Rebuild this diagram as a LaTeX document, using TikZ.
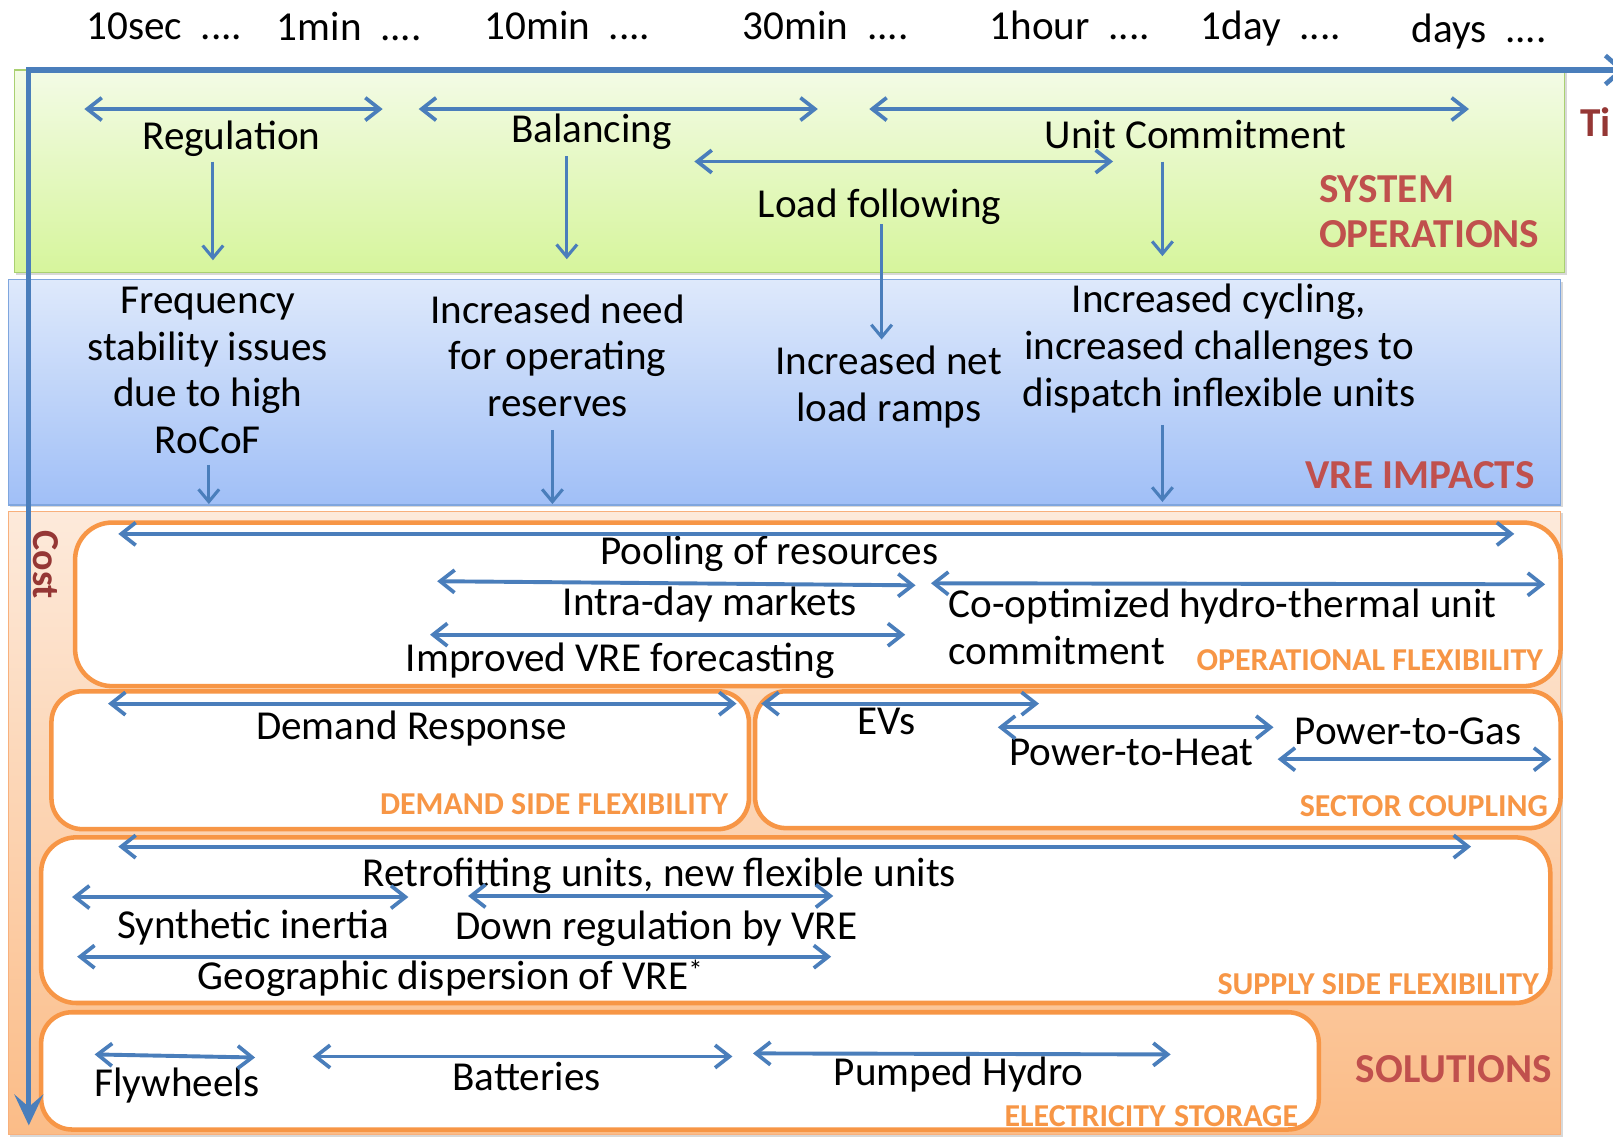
\documentclass[tikz,border=0pt]{standalone}
\usepackage{fontspec}
\setmainfont{Carlito}
\usetikzlibrary{arrows.meta,shadows}
\definecolor{arrblue}{HTML}{4A7EBB}
\definecolor{lblred}{HTML}{C0504D}
\definecolor{costred}{HTML}{953735}
\definecolor{orng}{HTML}{F79646}
\definecolor{grtop}{HTML}{F3FBE6}
\definecolor{grbot}{HTML}{D6F59C}
\definecolor{grline}{HTML}{A9D071}
\definecolor{bltop}{HTML}{DEE9FB}
\definecolor{blbot}{HTML}{A0BFF7}
\definecolor{blline}{HTML}{7FA6DE}
\definecolor{ortop}{HTML}{FDEADB}
\definecolor{orbot}{HTML}{FBBC87}
\definecolor{orline}{HTML}{F8B07C}
\begin{document}
\begin{tikzpicture}[x=1pt,y=-1pt,
  dbl/.style={arrblue,line width=3.8pt,
    {Straight Barb[length=14pt,width=22pt,line width=3.6pt]}-{Straight Barb[length=14pt,width=22pt,line width=3.6pt]}},
  dn/.style={arrblue,line width=3pt,-{Straight Barb[length=12pt,width=20pt,line width=3pt]}},
  txt/.style={font=\fontsize{40}{45.5}\selectfont,inner sep=0pt,align=center,anchor=base},
  tline/.style={font=\fontsize{40}{45.5}\selectfont,inner sep=0pt,anchor=base west},
  lbl/.style={font=\fontsize{40}{44}\selectfont\bfseries,text=lblred,inner sep=0pt},
  olbl/.style={font=\fontsize{31}{34}\selectfont\bfseries,text=orng,inner sep=0pt,anchor=base east},
  ibox/.style={draw=orng,line width=4.4pt,fill=white},
  bshadow/.style={drop shadow={opacity=.3,shadow xshift=2pt,shadow yshift=-2pt}},
  axis/.style={arrblue,line width=5pt}
]
\useasboundingbox[fill=white] (0,0) rectangle (1568,1107);

% ---------- time labels
\node[tline] (t1) at (84,38) {10sec\hspace{18pt}....};
\node[tline] (t2) at (269,39) {1min\hspace{18pt}....};
\node[tline] (t3) at (471,38) {10min\hspace{18pt}....};
\node[tline] (t4) at (722,38) {30min\hspace{18pt}....};
\node[tline] (t5) at (962,38) {1hour\hspace{18pt}....};
\node[tline] (t6) at (1167,38) {1day\hspace{18pt}....};
\node[tline] (t7) at (1372,41) {days\hspace{18pt}....};

% ---------- background boxes
\shade[bshadow,top color=grtop,bottom color=grbot,draw=grline,line width=1.2pt] (14,68) rectangle (1521,265);
\shade[bshadow,top color=bltop,bottom color=blbot,draw=blline,line width=1.2pt] (8,272) rectangle (1517,491);
\shade[bshadow,top color=ortop,bottom color=orbot,draw=orline,line width=1.2pt] (8,497) rectangle (1517,1103);

% ---------- inner solution boxes
\draw[ibox,rounded corners=36pt] (73,508) rectangle (1517,667);
\draw[ibox,rounded corners=30pt] (50,672) rectangle (728,806);
\draw[ibox,rounded corners=30pt] (734,672) rectangle (1517,805);
\draw[ibox,rounded corners=34pt] (40,814) rectangle (1507,975);
\draw[ibox,rounded corners=30pt] (40,984) rectangle (1282,1098);

% ---------- system operations
\node[txt] (reg) at (225,145) {Regulation};
\node[txt] (bal) at (575,139) {Balancing};
\node[txt] (lf) at (855,211) {Load following};
\node[txt] (uc) at (1162,144) {Unit Commitment};
\node[lbl,anchor=base west] (so1) at (1282,197) {SYSTEM};
\node[lbl,anchor=base west] (so2) at (1282,241) {OPERATIONS};

\coordinate (regL) at (82,106);  \coordinate (regR) at (372,106);
\coordinate (balL) at (407,106); \coordinate (balR) at (795,106);
\coordinate (ucL) at (845,106);  \coordinate (ucR) at (1428,106);
\coordinate (lfL) at (675,157);  \coordinate (lfR) at (1082,157);
\draw[dbl] (regL) -- (regR);
\draw[dbl] (balL) -- (balR);
\draw[dbl] (ucL) -- (ucR);
\draw[dbl] (lfL) -- (lfR);

\coordinate (d1a) at (207,157); \coordinate (d1b) at (207,253);
\coordinate (d2a) at (551,152); \coordinate (d2b) at (551,252);
\coordinate (d3a) at (857,218); \coordinate (d3b) at (857,330);
\coordinate (d4a) at (1130,157); \coordinate (d4b) at (1130,249);
\draw[dn] (d1a) -- (d1b);
\draw[dn] (d2a) -- (d2b);
\draw[dn] (d3a) -- (d3b);
\draw[dn] (d4a) -- (d4b);

% ---------- VRE impacts
\node[txt] (freq) at (202,441) {Frequency\\stability issues\\due to high\\RoCoF};
\node[txt] (need) at (542,405) {Increased need\\for operating\\reserves};
\node[txt] (ramp) at (864,410) {Increased net\\load ramps};
\node[txt] (cyc) at (1185,395) {Increased cycling,\\increased challenges to\\dispatch inflexible units};
\node[lbl,anchor=base east] (vre) at (1492,475) {VRE IMPACTS};

\coordinate (e1a) at (203,452); \coordinate (e1b) at (203,490);
\coordinate (e2a) at (537,418); \coordinate (e2b) at (537,490);
\coordinate (e3a) at (1130,413); \coordinate (e3b) at (1130,488);
\draw[dn] (e1a) -- (e1b);
\draw[dn] (e2a) -- (e2b);
\draw[dn] (e3a) -- (e3b);

% ---------- solutions
\node[font=\fontsize{37}{40}\selectfont\bfseries,text=costred,inner sep=0pt,rotate=-90] (cost) at (45,549) {Cost};
\node[lbl,anchor=base east] (sol) at (1509,1052) {SOLUTIONS};

\node[txt] (pool) at (748,549) {Pooling of resources};
\node[txt] (intra) at (690,598) {Intra-day markets};
\node[txt,anchor=base west,align=left] (coopt) at (922,646) {Co-optimized hydro-thermal unit\\commitment};
\node[txt] (fore) at (603,653) {Improved VRE forecasting};
\node[olbl] (opf) at (1500,652) {OPERATIONAL FLEXIBILITY};

\node[txt] (dr) at (400,719) {Demand Response};
\node[olbl] (dsf) at (708,792) {DEMAND SIDE FLEXIBILITY};

\node[txt] (ev) at (862,714) {EVs};
\node[txt] (pth) at (1100,744) {Power-to-Heat};
\node[txt] (ptg) at (1369,724) {Power-to-Gas};
\node[olbl] (sc) at (1505,794) {SECTOR COUPLING};

\node[txt] (retro) at (641,862) {Retrofitting units, new flexible units};
\node[txt] (syn) at (246,912) {Synthetic inertia};
\node[txt] (down) at (638,913) {Down regulation by VRE};
\node[txt] (geo) at (438,962) {Geographic dispersion of VRE\textsuperscript{*}};
\node[olbl] (ssf) at (1496,967) {SUPPLY SIDE FLEXIBILITY};

\node[txt] (fly) at (172,1066) {Flywheels};
\node[txt] (bat) at (512,1060) {Batteries};
\node[txt] (ph) at (932,1055) {Pumped Hydro};
\node[olbl] (es) at (1262,1095) {ELECTRICITY\hspace{8pt}STORAGE};

\coordinate (poolL) at (115,519);  \coordinate (poolR) at (1472,519);
\coordinate (intraL) at (425,565); \coordinate (intraR) at (890,569);
\coordinate (cooL) at (905,567);   \coordinate (cooR) at (1502,568);
\coordinate (foreL) at (418,617);  \coordinate (foreR) at (880,617);
\coordinate (drL) at (105,684);    \coordinate (drR) at (716,684);
\coordinate (evL) at (740,684);    \coordinate (evR) at (1010,684);
\coordinate (pthL) at (970,707);   \coordinate (pthR) at (1238,707);
\coordinate (ptgL) at (1242,738);  \coordinate (ptgR) at (1508,738);
\coordinate (retL) at (115,823);   \coordinate (retR) at (1430,823);
\coordinate (synL) at (70,872);    \coordinate (synR) at (397,872);
\coordinate (dwnL) at (455,871);   \coordinate (dwnR) at (810,871);
\coordinate (geoL) at (75,930);    \coordinate (geoR) at (808,930);
\coordinate (flyL) at (92,1025);   \coordinate (flyR) at (248,1028);
\coordinate (batL) at (304,1027);  \coordinate (batR) at (712,1027);
\coordinate (phL) at (732,1024);   \coordinate (phR) at (1138,1025);
\foreach \a in {pool,intra,coo,fore,dr,ev,pth,ptg,ret,syn,dwn,geo,fly,bat,ph}
  \draw[dbl] (\a L) -- (\a R);

% ---------- axes
\node[font=\fontsize{40}{44}\selectfont\bfseries,text=costred,inner sep=0pt,anchor=base west] (time) at (1536,133) {Ti};
\coordinate (axR) at (1580,68);
\coordinate (axO) at (28,68);
\coordinate (axB) at (28,1094);
\draw[axis,line join=miter,{Straight Barb[length=16pt,width=28pt,line width=4.5pt]}-{Stealth[length=30pt,width=28pt,inset=12pt]}] (axR) -- (axO) -- (axB);
\end{tikzpicture}
\end{document}
